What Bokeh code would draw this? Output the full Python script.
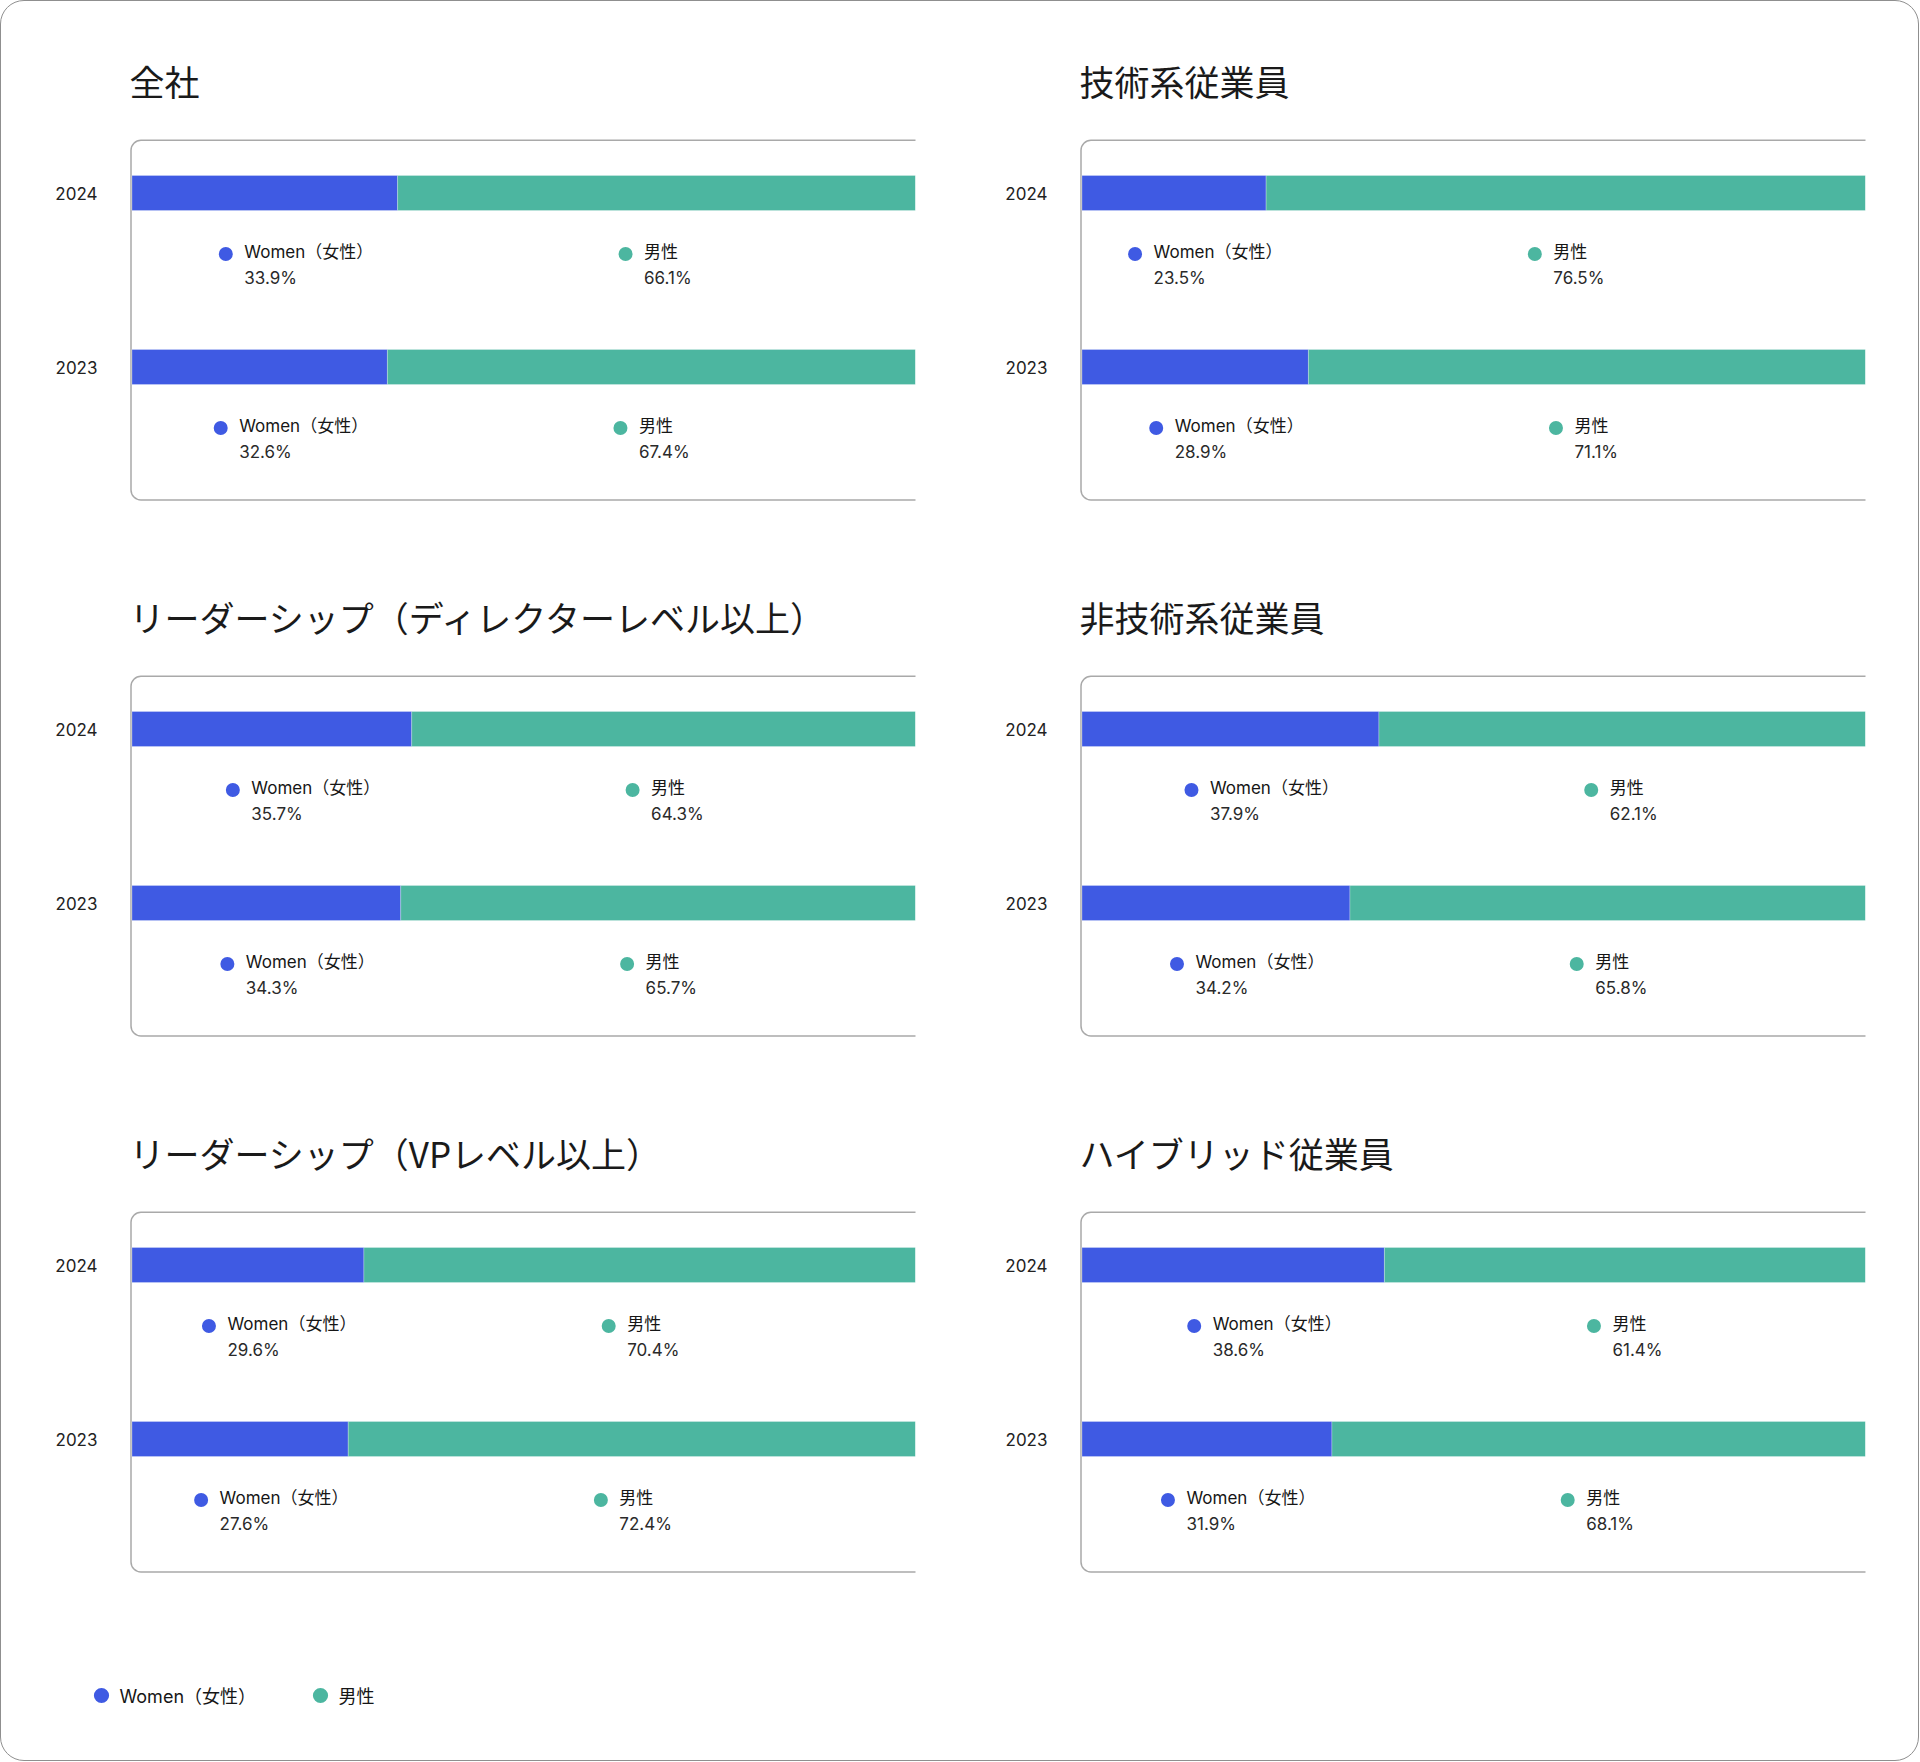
from bokeh.plotting import figure
from bokeh.models import ColumnDataSource, Range1d, FixedTicker, Legend, LegendItem
from bokeh.layouts import row, column
from bokeh.core.properties import value
from bokeh.embed import file_html
from bokeh.resources import INLINE

# ---------------- data ----------------
panel_titles = [
    "全社",
    "技術系従業員",
    "リーダーシップ（ディレクターレベル以上）",
    "非技術系従業員",
    "リーダーシップ（VPレベル以上）",
    "ハイブリッド従業員",
]
years = ["2024", "2023"]
women_2024 = [33.9, 23.5, 35.7, 37.9, 29.6, 38.6]
men_2024 = [66.1, 76.5, 64.3, 62.1, 70.4, 61.4]
women_2023 = [32.6, 28.9, 34.3, 34.2, 27.6, 31.9]
men_2023 = [67.4, 71.1, 65.7, 65.8, 72.4, 68.1]
series_labels = ["Women（女性）", "男性"]
series_colors = ["#3f5ae3", "#4cb6a0"]

# ---------------- layout constants (pixels) ----------------
ROW_H = 536
COL_W = [952, 965]
MB_LEFT = [128, 126]
MB_TOP = 136
FRAME_W = 786
FRAME_H = 366
LEG_H = 151
X0_PAD = 2.5                      # px between frame left and x=0
PX = (FRAME_W - X0_PAD) / 100.0   # px per percent
Y_STEP = 174.0                    # px between the two year bars
TOP_GAP = 55.5                    # frame top -> 2024 bar centre
BOT_GAP = 136.5                   # 2023 bar centre -> frame bottom
BAR_H = 35.0

LATIN = "Inter, 'Noto Sans CJK JP', sans-serif"
CJK = "'Noto Sans CJK JP', sans-serif"
BOX_COLOR = "#a9a9a9"


def make_panel(i):
    col = i % 2
    w = [women_2024[i], women_2023[i]]
    m = [men_2024[i], men_2023[i]]
    yv = [1.0, 0.0]  # 2024 on top, 2023 below
    src = ColumnDataSource(dict(
        y=yv,
        women=w,
        men=m,
        men_right=[a + b for a, b in zip(w, m)],
        w_mid=[a / 2 for a in w],
        m_mid=[a + b / 2 for a, b in zip(w, m)],
        w_dot=[a / 2 - 39 / PX for a in w],
        m_dot=[a + b / 2 - 31 / PX for a, b in zip(w, m)],
        dot_y=[v - 61 / Y_STEP for v in yv],
        w_lab=[series_labels[0]] * 2,
        m_lab=[series_labels[1]] * 2,
        w_val=[f"{a:.1f}%" for a in w],
        m_val=[f"{b:.1f}%" for b in m],
    ))

    y_start = -BOT_GAP / Y_STEP
    y_end = 1 + TOP_GAP / Y_STEP
    p = figure(
        width=COL_W[col], height=ROW_H,
        x_range=Range1d(-X0_PAD / PX, 100),
        y_range=Range1d(y_start, y_end),
        min_border_left=MB_LEFT[col],
        min_border_right=COL_W[col] - MB_LEFT[col] - FRAME_W,
        min_border_top=MB_TOP,
        min_border_bottom=ROW_H - MB_TOP - FRAME_H,
        toolbar_location=None, output_backend="svg",
        outline_line_color=None,
        border_fill_color=None, background_fill_color=None,
        title=panel_titles[i],
    )
    p.title.text_font = CJK
    p.title.text_font_size = "35px"
    p.title.text_font_style = "normal"
    p.title.text_color = "#1a1a1a"
    p.title.align = "left"
    p.title.standoff = 63

    p.xaxis.visible = False
    p.xgrid.visible = False
    p.ygrid.visible = False
    ya = p.yaxis[0]
    ya.ticker = FixedTicker(ticks=[1, 0])
    ya.major_label_overrides = {1: years[0], 0: years[1]}
    ya.axis_line_color = None
    ya.major_tick_line_color = None
    ya.minor_tick_line_color = None
    ya.major_tick_in = 0
    ya.major_tick_out = 0
    ya.major_label_standoff = 32
    ya.major_label_text_font = LATIN
    ya.major_label_text_font_size = "17px"
    ya.major_label_text_color = "#222222"

    # card outline (right side runs past the frame and is clipped)
    p.quad(left=[-1.0 / PX], right=[115], top=[y_end - 2.8 / Y_STEP],
           bottom=[y_start + 3.5 / Y_STEP], fill_color=None,
           line_color=BOX_COLOR, line_width=1.5, border_radius=10)

    bh = BAR_H / Y_STEP
    p.hbar(y="y", left=0, right="women", height=bh, source=src,
           fill_color=series_colors[0], line_color="white", line_alpha=0.25, line_width=1)
    p.hbar(y="y", left="women", right="men_right", height=bh, source=src,
           fill_color=series_colors[1], line_color="white", line_alpha=0.25, line_width=1)

    p.scatter(x="w_dot", y="dot_y", size=14, source=src,
              fill_color=series_colors[0], line_color=None)
    p.scatter(x="m_dot", y="dot_y", size=14, source=src,
              fill_color=series_colors[1], line_color=None)

    common = dict(source=src, text_font=value(LATIN), text_font_size="17px",
                  text_baseline="middle", text_align="left")
    p.text(x="w_mid", y="y", text="w_lab", x_offset=-20.5, y_offset=59,
           text_color="#161616", **common)
    p.text(x="m_mid", y="y", text="m_lab", x_offset=-12.5, y_offset=59,
           text_color="#161616", **common)
    p.text(x="w_mid", y="y", text="w_val", x_offset=-20.5, y_offset=85,
           text_color="#2a2a2a", **common)
    p.text(x="m_mid", y="y", text="m_val", x_offset=-12.5, y_offset=85,
           text_color="#2a2a2a", **common)
    return p


figs = [make_panel(i) for i in range(6)]

# ---------------- bottom legend ----------------
lf = figure(width=sum(COL_W), height=LEG_H, x_range=Range1d(0, 1), y_range=Range1d(0, 1),
            min_border=0, toolbar_location=None, output_backend="svg",
            outline_line_color=None, border_fill_color=None, background_fill_color=None)
lf.axis.visible = False
lf.grid.visible = False
# legend swatch renderers: their points lie outside the visible range
off = ColumnDataSource(dict(x=[-10.0], y=[-10.0]))
r_w = lf.scatter(x="x", y="y", source=off, fill_color=series_colors[0], line_color=None)
r_m = lf.scatter(x="x", y="y", source=off, fill_color=series_colors[1], line_color=None)
legend = Legend(
    items=[LegendItem(label=series_labels[0], renderers=[r_w]),
           LegendItem(label=series_labels[1], renderers=[r_m])],
    orientation="horizontal", location=(80.5, 46.5),
    glyph_width=38, glyph_height=38, label_standoff=0, label_width=160, spacing=21,
    padding=0, margin=0, border_line_color=None, background_fill_alpha=0,
    label_text_font=LATIN, label_text_font_size="18px", label_text_color="#161616",
)
lf.add_layout(legend)

root = column(
    row(figs[0], figs[1]),
    row(figs[2], figs[3]),
    row(figs[4], figs[5]),
    lf,
    styles={"border": "1.5px solid #8f8f8f", "border-radius": "24px",
            "background-color": "white"},
)

open("out.html", "w").write(file_html(root, INLINE))
